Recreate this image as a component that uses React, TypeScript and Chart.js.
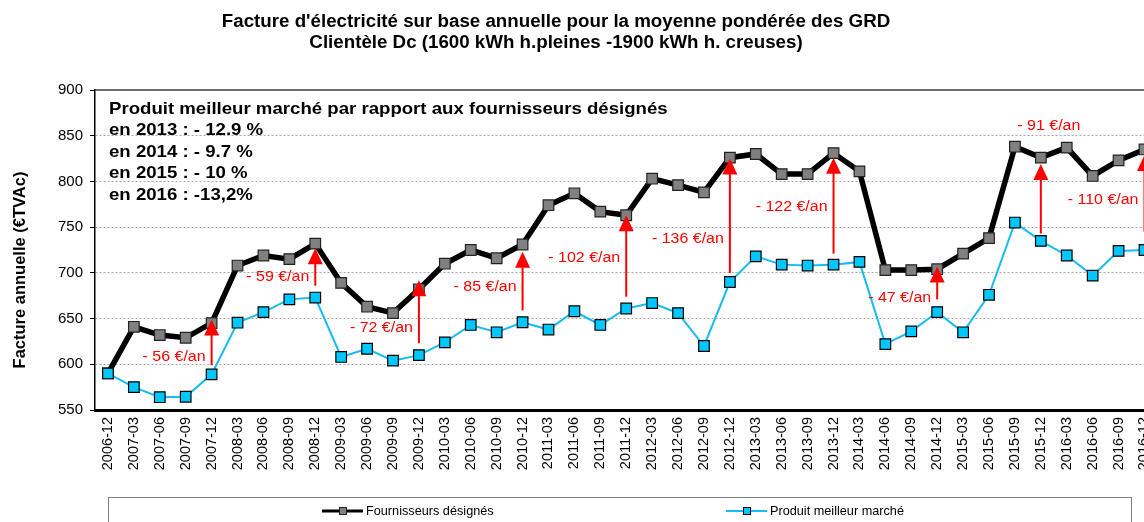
import React, { useEffect, useRef } from 'react';
import { Chart, registerables } from 'chart.js';

Chart.register(...registerables);

const categories = [
  '2006-12',
  '2007-03', '2007-06', '2007-09', '2007-12',
  '2008-03', '2008-06', '2008-09', '2008-12',
  '2009-03', '2009-06', '2009-09', '2009-12',
  '2010-03', '2010-06', '2010-09', '2010-12',
  '2011-03', '2011-06', '2011-09', '2011-12',
  '2012-03', '2012-06', '2012-09', '2012-12',
  '2013-03', '2013-06', '2013-09', '2013-12',
  '2014-03', '2014-06', '2014-09', '2014-12',
  '2015-03', '2015-06', '2015-09', '2015-12',
  '2016-03', '2016-06', '2016-09', '2016-12',
];

const fournisseursDesignes = [
  590,
  641, 632, 629, 645,
  708, 719, 715, 732,
  689, 663, 656, 682,
  710, 725, 716, 731,
  774, 787, 767, 763,
  803, 796, 788, 826,
  830, 808, 808, 831,
  811, 703, 703, 704,
  721, 738, 838, 826,
  837, 806, 823, 835,
];

const produitMeilleurMarche = [
  590,
  575, 564, 564.5, 589,
  645.5, 657, 671, 673,
  608, 617, 604, 610,
  624, 643, 635, 646,
  638, 658, 643, 661,
  667, 656, 620, 690,
  718, 709, 708, 709,
  712, 622, 636, 657,
  635, 676, 755, 735,
  719, 697, 724, 725,
];

const yMin = 550;
const yMax = 900;
const yStep = 50;

const arrowCats = ['2007-12', '2008-12', '2009-12', '2010-12', '2011-12', '2012-12', '2013-12', '2014-12', '2015-12', '2016-12'];
const arrowFrom = [599, 686, 623, 659, 674, 700, 721, 671, 743, 745];
const arrowTo = [649, 727, 692, 723, 763, 825, 826, 707, 819, 829];
const arrowLabels = ['- 56 €/an', '- 59 €/an', '- 72 €/an', '- 85 €/an', '- 102 €/an', '- 136 €/an', '- 122 €/an', '- 47 €/an', '- 91 €/an', '- 110 €/an'];
const arrowLabelAt = [608, 696, 640, 685, 716.5, 737, 772, 673, 861, 780];
const arrowLabelAbove = [false, false, false, false, false, false, false, false, true, false];

const titleLines = [
  "Facture d'électricité sur base annuelle pour la moyenne pondérée des GRD",
  'Clientèle Dc (1600 kWh h.pleines -1900 kWh h. creuses)',
];
const noteLines = [
  'Produit meilleur marché par rapport aux fournisseurs désignés',
  'en 2013 : - 12.9 %',
  'en 2014 : - 9.7 %',
  'en 2015 : - 10 %',
  'en 2016 : -13,2%',
];
const yAxisTitle = 'Facture annuelle (€TVAc)';
const seriesNames = ['Fournisseurs désignés', 'Produit meilleur marché'];

const FONT = "'Liberation Sans', Arial, sans-serif";
const BLACK_LINE = '#000000';
const GREY_MARK = '#808080';
const BLUE_LINE = '#14bcef';
const BLUE_MARK = '#00c8ff';
const RED = '#ff0000';

function stretchedText(ctx: CanvasRenderingContext2D, text: string, x: number, y: number, sx: number, align: CanvasTextAlign) {
  ctx.save();
  ctx.translate(x, y);
  ctx.scale(sx, 1);
  ctx.textAlign = align;
  ctx.fillText(text, 0, 0);
  ctx.restore();
}

const decorPlugin = {
  id: 'decor',
  beforeDatasetsDraw(chart: any) {
    const { ctx, chartArea } = chart;
    ctx.save();
    ctx.strokeStyle = '#404040';
    ctx.lineWidth = 1.5;
    ctx.beginPath();
    ctx.moveTo(chartArea.left, chartArea.top);
    ctx.lineTo(chartArea.right, chartArea.top);
    ctx.stroke();
    ctx.restore();
  },
  afterDatasetsDraw(chart: any) {
    const { ctx, scales } = chart;
    const xs = scales.x;
    const ys = scales.y;
    ctx.save();

    // arrows
    arrowCats.forEach((c, i) => {
      const px = xs.getPixelForValue(categories.indexOf(c));
      const y0 = ys.getPixelForValue(arrowFrom[i]);
      const y1 = ys.getPixelForValue(arrowTo[i]);
      const headH = 16;
      const headW = 15;
      ctx.strokeStyle = RED;
      ctx.lineWidth = 2;
      ctx.beginPath();
      ctx.moveTo(px, y0);
      ctx.lineTo(px, y1 + headH - 1);
      ctx.stroke();
      ctx.fillStyle = RED;
      ctx.beginPath();
      ctx.moveTo(px, y1);
      ctx.lineTo(px - headW / 2, y1 + headH);
      ctx.lineTo(px + headW / 2, y1 + headH);
      ctx.closePath();
      ctx.fill();

      ctx.font = `15.5px ${FONT}`;
      ctx.textBaseline = 'middle';
      const ly = ys.getPixelForValue(arrowLabelAt[i]);
      if (arrowLabelAbove[i]) {
        stretchedText(ctx, arrowLabels[i], px + 8, ly, 1.03, 'center');
      } else {
        stretchedText(ctx, arrowLabels[i], px - 6, ly, 1.03, 'right');
      }
    });

    // note text box
    ctx.fillStyle = '#000';
    ctx.textBaseline = 'middle';
    ctx.font = `bold 17px ${FONT}`;
    const noteY = [109, 130.5, 152, 173.5, 195];
    noteLines.forEach((t, i) => stretchedText(ctx, t, 109, noteY[i], 1.095, 'left'));

    // title
    ctx.font = `bold 17.5px ${FONT}`;
    stretchedText(ctx, titleLines[0], 556, 22, 1.07, 'center');
    stretchedText(ctx, titleLines[1], 556, 43, 1.07, 'center');

    // y axis title
    ctx.save();
    ctx.translate(20, 270);
    ctx.rotate(-Math.PI / 2);
    ctx.font = `bold 16.5px ${FONT}`;
    ctx.textAlign = 'center';
    ctx.textBaseline = 'middle';
    ctx.fillText(yAxisTitle, 0, 0);
    ctx.restore();

    // legend
    ctx.strokeStyle = '#808080';
    ctx.lineWidth = 1;
    ctx.strokeRect(108.5, 497.5, 1023, 40);
    const legendY = 511;
    const entries = [
      { x: 322, color: BLACK_LINE, lw: 3, fill: GREY_MARK, border: '#222' },
      { x: 726, color: BLUE_LINE, lw: 2, fill: BLUE_MARK, border: '#000' },
    ];
    entries.forEach((e, i) => {
      ctx.strokeStyle = e.color;
      ctx.lineWidth = e.lw;
      ctx.beginPath();
      ctx.moveTo(e.x, legendY);
      ctx.lineTo(e.x + 41, legendY);
      ctx.stroke();
      ctx.fillStyle = e.fill;
      ctx.fillRect(e.x + 17, legendY - 4, 8, 8);
      ctx.strokeStyle = e.border;
      ctx.lineWidth = 1;
      ctx.strokeRect(e.x + 17.5, legendY - 3.5, 7, 7);
      ctx.fillStyle = '#000';
      ctx.font = `12.7px ${FONT}`;
      ctx.textAlign = 'left';
      ctx.textBaseline = 'middle';
      ctx.fillText(seriesNames[i], e.x + 44, legendY);
    });

    ctx.restore();
  },
};

export default function App() {
  const canvasRef = useRef<HTMLCanvasElement | null>(null);

  useEffect(() => {
    const canvas = canvasRef.current;
    if (!canvas) return;
    const chart = new Chart(canvas, {
      type: 'line',
      data: {
        labels: categories,
        datasets: [
          {
            label: seriesNames[0],
            data: fournisseursDesignes,
            borderColor: BLACK_LINE,
            borderWidth: 5.5,
            pointStyle: 'rect',
            pointRadius: 7.5,
            pointBackgroundColor: GREY_MARK,
            pointBorderColor: '#222',
            pointBorderWidth: 1.2,
            tension: 0,
            order: 1,
          },
          {
            label: seriesNames[1],
            data: produitMeilleurMarche,
            borderColor: BLUE_LINE,
            borderWidth: 2,
            pointStyle: 'rect',
            pointRadius: 7.5,
            pointBackgroundColor: BLUE_MARK,
            pointBorderColor: '#000',
            pointBorderWidth: 1.2,
            tension: 0,
            order: 0,
          },
        ],
      },
      options: {
        responsive: false,
        animation: false,
        devicePixelRatio: 1,
        layout: { padding: { top: 90, left: 0, right: 0, bottom: 0 } },
        plugins: {
          legend: { display: false },
          title: { display: false },
          tooltip: { enabled: false },
        },
        scales: {
          x: {
            type: 'category',
            offset: true,
            grid: { display: false, drawTicks: false },
            border: { display: true, color: '#000', width: 3 },
            ticks: {
              autoSkip: false,
              minRotation: 90,
              maxRotation: 90,
              padding: 7,
              color: '#000',
              font: { family: FONT, size: 14.5 },
            },
            afterFit: (s: any) => {
              s.height = 112;
            },
          },
          y: {
            min: yMin,
            max: yMax,
            ticks: {
              stepSize: yStep,
              padding: 7,
              color: '#000',
              font: { family: FONT, size: 15 },
            },
            grid: {
              color: (c: any) => (c.tick && (c.tick.value === yMin || c.tick.value === yMax) ? 'rgba(0,0,0,0)' : '#a6a6a6'),
              tickColor: '#000',
              tickLength: 5,
              lineWidth: 1,
            },
            border: { display: true, color: '#000', width: 1.5, dash: [2, 2] },
            afterFit: (s: any) => {
              s.width = 95;
            },
          },
        },
      },
      plugins: [decorPlugin],
    });
    return () => chart.destroy();
  }, []);

  return (
    <div
      style={{
        position: 'fixed',
        left: 0,
        top: 0,
        width: 1144,
        height: 522,
        overflow: 'hidden',
        background: '#fff',
      }}
    >
      <canvas ref={canvasRef} width={1169} height={522} style={{ display: 'block', width: 1169, height: 522 }} />
    </div>
  );
}
